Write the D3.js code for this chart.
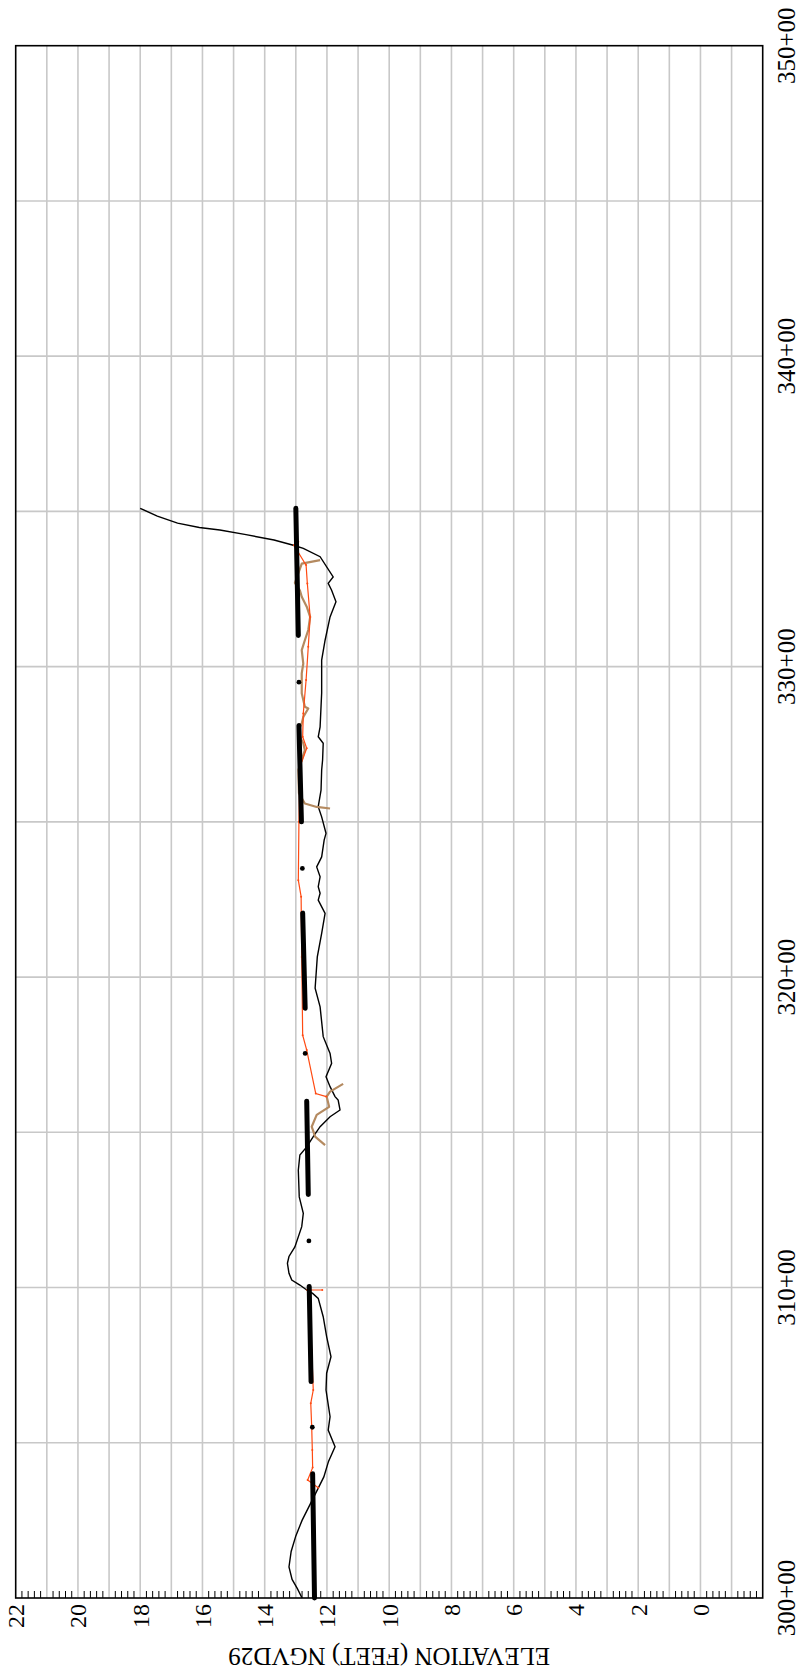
<!DOCTYPE html>
<html>
<head>
<meta charset="utf-8">
<script src="https://cdn.jsdelivr.net/npm/d3@7"></script>
<style>
  html, body { margin: 0; padding: 0; background: #fff; }
  svg { display: block; }
  text { font-family: "Liberation Serif", "Times New Roman", Times, serif; }
</style>
</head>
<body>
<div id="chart"></div>
<script>
// station (hundreds of feet), elevation (feet)
var ground = [
  [335.10, 18.00], [334.85, 17.45], [334.62, 16.80], [334.48, 16.10], [334.40, 15.44],
  [334.25, 14.60], [334.08, 13.70], [333.91, 13.08], [333.81, 12.76], [333.54, 12.22],
  [332.89, 11.80], [332.68, 11.96], [332.46, 11.85], [332.09, 11.71], [331.60, 11.90],
  [330.85, 12.06], [330.21, 12.17], [329.15, 12.17], [328.06, 12.22], [327.74, 12.28],
  [327.53, 12.12], [326.99, 12.14], [326.67, 12.17], [326.02, 12.19], [325.49, 12.28],
  [325.16, 12.17], [324.63, 12.03], [324.41, 12.09], [323.87, 12.17], [323.55, 12.33],
  [323.23, 12.22], [322.91, 12.28], [322.70, 12.22], [322.48, 12.28], [322.05, 12.06],
  [321.41, 12.17], [320.65, 12.31], [319.64, 12.38], [319.04, 12.22], [318.08, 12.12],
  [317.54, 11.90], [317.22, 11.85], [316.79, 12.03], [316.47, 11.90], [316.15, 11.74],
  [316.04, 11.64], [315.72, 11.58], [315.50, 11.90], [315.18, 12.22], [314.86, 12.44],
  [314.53, 12.65], [314.27, 12.87], [313.78, 12.92], [312.92, 12.89], [312.39, 12.76],
  [311.96, 12.81], [311.31, 13.03], [311.00, 13.22], [310.78, 13.27], [310.46, 13.22],
  [310.24, 13.13], [310.08, 12.87], [309.92, 12.65], [309.81, 12.46], [309.65, 12.28],
  [309.06, 12.12], [308.42, 12.01], [307.77, 11.87], [307.24, 12.01], [306.70, 12.03],
  [305.84, 11.90], [305.41, 11.96], [304.87, 11.74], [304.40, 11.95], [303.90, 12.10],
  [303.50, 12.30], [303.00, 12.55], [302.50, 12.80], [302.00, 13.00], [301.50, 13.15],
  [301.00, 13.22], [300.60, 13.12], [300.30, 12.95], [300.00, 12.80]
];

var redTop = [
  [334.02, 12.92], [333.91, 13.06], [333.27, 12.67], [332.68, 12.63], [331.60, 12.54],
  [330.64, 12.60], [329.57, 12.67], [328.49, 12.76], [327.74, 12.78], [327.37, 12.65],
  [326.77, 12.87], [325.00, 12.90], [323.12, 12.92], [322.59, 12.83], [320.65, 12.81],
  [318.13, 12.78], [317.65, 12.65], [316.25, 12.36], [316.15, 12.02]
];

var redBottom = [
  [309.92, 12.15], [309.92, 12.63], [309.86, 12.60], [309.06, 12.54], [307.99, 12.49],
  [306.70, 12.44], [306.27, 12.52], [305.52, 12.49], [304.77, 12.47], [304.20, 12.46],
  [303.80, 12.62], [303.55, 12.28]
];

var tanTop = [
  [333.43, 12.22], [333.32, 12.81], [333.00, 12.92], [332.70, 13.03], [332.46, 12.87],
  [332.25, 12.81], [331.93, 12.65], [331.60, 12.54], [331.18, 12.60], [330.85, 12.71],
  [330.53, 12.81], [330.10, 12.76], [329.78, 12.81], [329.14, 12.81], [328.71, 12.71],
  [328.65, 12.60], [328.38, 12.76], [328.17, 12.81], [327.95, 12.92], [327.74, 12.87],
  [327.53, 12.76], [327.31, 12.71], [326.99, 12.81], [326.67, 12.92], [325.92, 12.90],
  [325.59, 12.71], [325.48, 12.33], [325.43, 11.90]
];

var tanMid = [
  [316.56, 11.48], [316.31, 11.90], [316.15, 12.01], [315.82, 11.93], [315.56, 12.33],
  [315.18, 12.49], [314.86, 12.38], [314.59, 12.06]
];

// design crest segments: [start station, start elev, end station, end elev]
var crestBars = [
  [331.00, 12.92, 335.10, 13.00],
  [325.00, 12.82, 328.10, 12.90],
  [319.00, 12.70, 322.06, 12.78],
  [313.00, 12.60, 316.00, 12.65],
  [306.97, 12.51, 310.03, 12.57],
  [300.00, 12.40, 304.00, 12.46]
];

var crestPoints = [
  [329.50, 12.90], [323.50, 12.79], [317.54, 12.70], [311.50, 12.58], [305.50, 12.47]
];

var elevTicks = [0, 2, 4, 6, 8, 10, 12, 14, 16, 18, 20, 22];
var stationTicks = [300, 310, 320, 330, 340, 350];
var stationLabels = ["300+00", "310+00", "320+00", "330+00", "340+00", "350+00"];

// the chart is drawn as a normal profile, then turned a quarter turn
var W = 1672, H = 800;
var x = d3.scaleLinear().domain([300, 350]).range([74, 1626.3]);
var y = d3.scaleLinear().domain([-2, 22]).range([762.7, 15.7]);

var svg = d3.select("#chart").append("svg")
  .attr("width", 800)
  .attr("height", 1672);

var g = svg.append("g")
  .attr("transform", "translate(0," + W + ") rotate(-90)");

// grid
g.append("g").selectAll("line")
  .data(d3.range(-1, 22))
  .enter().append("line")
  .attr("x1", x(300)).attr("x2", x(350))
  .attr("y1", d => y(d)).attr("y2", d => y(d))
  .attr("stroke", "#c8c8c8").attr("stroke-width", 1.6);

g.append("g").selectAll("line")
  .data(d3.range(305, 350, 5))
  .enter().append("line")
  .attr("x1", d => x(d)).attr("x2", d => x(d))
  .attr("y1", y(22)).attr("y2", y(-2))
  .attr("stroke", "#c8c8c8").attr("stroke-width", 1.6);

// minor ticks along the elevation axis
var minor = d3.range(-2, 22.001, 0.2).filter(d => Math.abs(d - Math.round(d)) > 0.01);
g.append("g").selectAll("line")
  .data(minor)
  .enter().append("line")
  .attr("x1", x(300)).attr("x2", x(300) + 7)
  .attr("y1", d => y(d)).attr("y2", d => y(d))
  .attr("stroke", "#000").attr("stroke-width", 1);

var line = d3.line().x(d => x(d[0])).y(d => y(d[1]));

g.append("path").datum(ground)
  .attr("d", line).attr("fill", "none")
  .attr("stroke", "#000").attr("stroke-width", 1.4);

[tanTop, tanMid].forEach(s => {
  g.append("path").datum(s)
    .attr("d", line).attr("fill", "none")
    .attr("stroke", "#b48a60").attr("stroke-width", 2.2)
    .attr("stroke-linejoin", "round");
});

[redTop, redBottom].forEach(s => {
  g.append("path").datum(s)
    .attr("d", line).attr("fill", "none")
    .attr("stroke", "#ff4a12").attr("stroke-width", 1.2);
  g.append("g").selectAll("circle")
    .data(s).enter().append("circle")
    .attr("cx", d => x(d[0])).attr("cy", d => y(d[1]))
    .attr("r", 1).attr("fill", "#ff4a12");
});

g.append("g").selectAll("line")
  .data(crestBars)
  .enter().append("line")
  .attr("x1", d => x(d[0])).attr("y1", d => y(d[1]))
  .attr("x2", d => x(d[2])).attr("y2", d => y(d[3]))
  .attr("stroke", "#000").attr("stroke-width", 5)
  .attr("stroke-linecap", "round");

g.append("g").selectAll("circle")
  .data(crestPoints)
  .enter().append("circle")
  .attr("cx", d => x(d[0])).attr("cy", d => y(d[1]))
  .attr("r", 2.4).attr("fill", "#000");

// frame
g.append("rect")
  .attr("x", x(300)).attr("y", y(22))
  .attr("width", x(350) - x(300)).attr("height", y(-2) - y(22))
  .attr("fill", "none").attr("stroke", "#000").attr("stroke-width", 1.6);

// labels
g.append("g").selectAll("text")
  .data(elevTicks)
  .enter().append("text")
  .attr("x", x(300) - 6).attr("y", d => y(d))
  .attr("dy", "0.35em")
  .attr("text-anchor", "end")
  .attr("font-size", 24)
  .text(d => d);

g.append("g").selectAll("text")
  .data(stationTicks)
  .enter().append("text")
  .attr("x", d => x(d)).attr("y", y(-2) + 32)
  .attr("text-anchor", "middle")
  .attr("font-size", 25)
  .text((d, i) => stationLabels[i]);

g.append("text")
  .attr("transform", "translate(24," + (y(22) + y(-2)) / 2 + ") rotate(-90)")
  .attr("text-anchor", "middle")
  .attr("font-size", 25)
  .text("ELEVATION (FEET) NGVD29");
</script>
</body>
</html>
